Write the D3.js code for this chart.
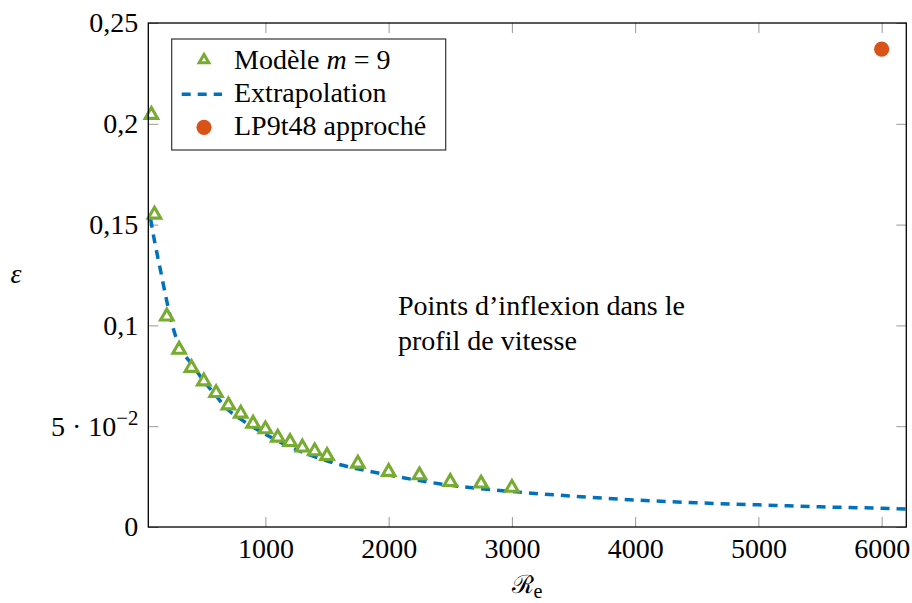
<!DOCTYPE html>
<html><head><meta charset="utf-8">
<script src="https://cdn.jsdelivr.net/npm/d3@7"></script>
<style>
body{margin:0;background:#fff}
text{font-family:"Liberation Serif","Times New Roman",serif;fill:#000}
</style>
</head><body>
<svg id="c" width="912" height="603"></svg>
<script>
// ---- data ----
const modelRe  = [75, 100, 200, 300, 400, 500, 600, 700, 800, 900, 1000, 1100, 1200, 1300, 1400, 1500, 1750, 2000, 2250, 2500, 2750, 3000];
const modelEps = [0.2045, 0.155, 0.1045, 0.088, 0.079, 0.0723, 0.0665, 0.0604, 0.0563, 0.0513, 0.0485, 0.0444, 0.0422, 0.0395, 0.0376, 0.0353, 0.0315, 0.0274, 0.0257, 0.0224, 0.0216, 0.0195];
const extrapRe  = [68, 100, 150, 200, 250, 300, 400, 500, 600, 700, 800, 1000, 1200, 1500, 2000, 2500, 3000, 3500, 4000, 4500, 5000, 5500, 6000, 6200];
const extrapEps = [0.153, 0.142, 0.127, 0.112, 0.099, 0.090, 0.081, 0.0725, 0.065, 0.058, 0.0535, 0.046, 0.0398, 0.0328, 0.0258, 0.0207, 0.0176, 0.0153, 0.0134, 0.0120, 0.0110, 0.0100, 0.0093, 0.0089];
const lpRe  = [6000];
const lpEps = [0.237];
const xTicks = [1000, 2000, 3000, 4000, 5000, 6000];
const yTicks = [0, 0.05, 0.1, 0.15, 0.2, 0.25];
const yTickLabels = ["0", "5 · 10|−2", "0,1", "0,15", "0,2", "0,25"];
const legendLabels = ["Modèle |m| = 9", "Extrapolation", "LP9t48 approché"];
const noteLines = ["Points d’inflexion dans le", "profil de vitesse"];

const green = "#77AC30", blue = "#0072BD", orange = "#D95319";
const FS = 28;
const L = 148.3, R = 906.3, T = 23, B = 527;
const svg = d3.select("#c");
const x = d3.scaleLinear().domain([50, 6200]).range([L, R]);
const y = d3.scaleLinear().domain([0, 0.25]).range([B, T]);

// ticks
const gx = svg.append("g").attr("transform", `translate(0,${B})`)
  .call(d3.axisBottom(x).tickValues(xTicks).tickSizeInner(-10).tickSizeOuter(0).tickPadding(11).tickFormat(d3.format("d")));
const gxt = svg.append("g").attr("transform", `translate(0,${T})`)
  .call(d3.axisTop(x).tickValues(xTicks).tickSizeInner(-10).tickSizeOuter(0).tickFormat(""));
const gy = svg.append("g").attr("transform", `translate(${L},0)`)
  .call(d3.axisLeft(y).tickValues(yTicks).tickSizeInner(-10).tickSizeOuter(0).tickPadding(10).tickFormat((d,i)=>yTickLabels[i]));
const gyr = svg.append("g").attr("transform", `translate(${R},0)`)
  .call(d3.axisRight(y).tickValues(yTicks).tickSizeInner(-10).tickSizeOuter(0).tickFormat(""));
[gx, gxt, gy, gyr].forEach(g => {
  g.select(".domain").remove();
  g.selectAll("line").attr("stroke", "#999").attr("stroke-width", 1);
  g.selectAll("text").attr("font-size", FS).attr("font-family", "Liberation Serif").attr("fill", "#000");
});
// superscript label
gy.selectAll("text").each(function(d, i) {
  const s = yTickLabels[i];
  if (s.includes("|")) {
    const [a, b] = s.split("|");
    const t = d3.select(this).text(null);
    t.append("tspan").text(a.replace(/ /g, "\u2005"));
    t.append("tspan").attr("dy", "-0.5em").attr("font-size", FS * 0.74).text(b);
  }
});

// extrapolation curve
const pts = extrapRe.map((r, i) => [r, extrapEps[i]]);
svg.append("path").datum(pts)
  .attr("d", d3.line().x(d => x(d[0])).y(d => y(d[1])).curve(d3.curveMonotoneX))
  .attr("fill", "none").attr("stroke", blue).attr("stroke-width", 3.5)
  .attr("stroke-dasharray", "9,7");

// triangle marker
const tri = r => `M0,${-r}L${0.866*r},${0.5*r}L${-0.866*r},${0.5*r}Z`;
svg.append("g").selectAll("path").data(modelRe.map((r, i) => [r, modelEps[i]])).join("path")
  .attr("d", tri(7.2))
  .attr("transform", d => `translate(${x(d[0])},${y(d[1])})`)
  .attr("fill", "#fff").attr("stroke", green).attr("stroke-width", 3.1).attr("stroke-linejoin", "miter");

svg.append("g").selectAll("circle").data(lpRe.map((r, i) => [r, lpEps[i]])).join("circle")
  .attr("cx", d => x(d[0])).attr("cy", d => y(d[1])).attr("r", 7.6).attr("fill", orange);

// frame
svg.append("rect").attr("x", L).attr("y", T).attr("width", R - L).attr("height", B - T)
  .attr("fill", "none").attr("stroke", "#000").attr("stroke-width", 1.3);

// note
svg.append("g").selectAll("text").data(noteLines).join("text")
  .attr("x", 398).attr("y", (d, i) => 315 + i * 35).attr("font-size", FS).text(d => d);

// legend
const lg = svg.append("g");
lg.append("rect").attr("x", 171.7).attr("y", 39).attr("width", 274).attr("height", 111)
  .attr("fill", "#fff").attr("stroke", "#333").attr("stroke-width", 1.2);
lg.append("path").attr("d", tri(5.6)).attr("transform", "translate(204,60)")
  .attr("fill", "#fff").attr("stroke", green).attr("stroke-width", 3);
lg.append("line").attr("x1", 181.7).attr("x2", 222).attr("y1", 94.3).attr("y2", 94.3)
  .attr("stroke", blue).attr("stroke-width", 3.5).attr("stroke-dasharray", "9,7");
lg.append("circle").attr("cx", 204).attr("cy", 127.3).attr("r", 7.6).attr("fill", orange);
legendLabels.forEach((s, i) => {
  const t = lg.append("text").attr("x", 234).attr("y", 68.5 + i * 33).attr("font-size", FS);
  const parts = s.split("|");
  parts.forEach((p, k) => {
    const ts = t.append("tspan").text(p);
    if (k === 1) ts.attr("font-style", "italic");
  });
});

// axis titles
svg.append("text").attr("x", 16).attr("y", 283).attr("text-anchor", "middle")
  .attr("font-size", FS).attr("font-style", "italic").text("ε");
const xt = svg.append("text").attr("x", 527).attr("y", 593).attr("text-anchor", "middle").attr("font-size", FS);
xt.append("tspan").attr("font-family", "DejaVu Serif").attr("font-size", FS * 0.9).text("ℛ");
xt.append("tspan").attr("dy", "0.25em").attr("font-size", FS * 0.72).text("e");
</script>
</body></html>
